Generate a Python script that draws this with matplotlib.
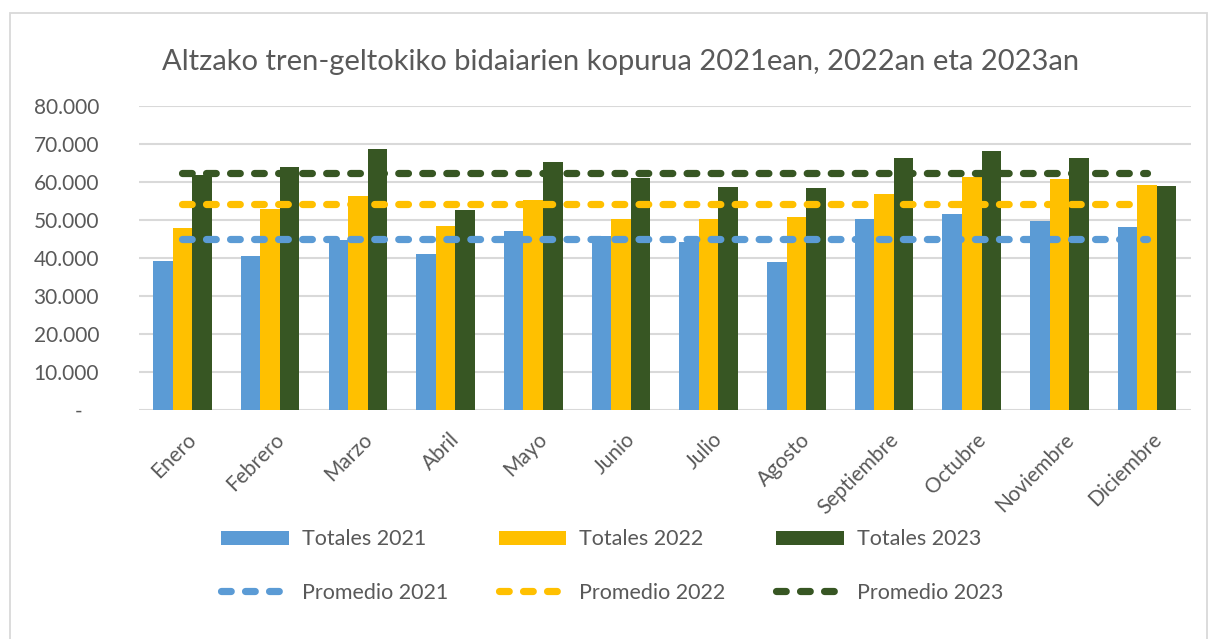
import matplotlib
matplotlib.use("Agg")
import matplotlib.pyplot as plt
from matplotlib.patches import Rectangle, Patch
from matplotlib.lines import Line2D
from matplotlib.transforms import ScaledTranslation
import numpy as np

plt.rcParams['font.family'] = ['Lato', 'DejaVu Sans']
plt.rcParams['lines.scale_dashes'] = False

months = ["Enero", "Febrero", "Marzo", "Abril", "Mayo", "Junio", "Julio",
          "Agosto", "Septiembre", "Octubre", "Noviembre", "Diciembre"]
totales_2021 = [39130, 40440, 44650, 41140, 47020, 45700, 44210, 38860, 50180, 51580, 49740, 48160]
totales_2022 = [47980, 52890, 56230, 48420, 55260, 50260, 50260, 50790, 56760, 61230, 60790, 59120]
totales_2023 = [61900, 63950, 68770, 52720, 65170, 60960, 58770, 58420, 66400, 68070, 66400, 58950]
promedio_2021 = 45070
promedio_2022 = 54170
promedio_2023 = 62400
ytick_values = [0, 10000, 20000, 30000, 40000, 50000, 60000, 70000, 80000]

title = "Altzako tren-geltokiko bidaiarien kopurua 2021ean, 2022an eta 2023an"
series_labels = ["Totales 2021", "Totales 2022", "Totales 2023"]
avg_labels = ["Promedio 2021", "Promedio 2022", "Promedio 2023"]
colors = ["#5B9BD5", "#FFC000", "#375623"]
text_color = "#595959"
grid_color = "#D9D9D9"

W, H = 1208, 639
fig = plt.figure(figsize=(W / 100, H / 100), dpi=100)
fig.patch.set_facecolor("white")

# chart frame
fig.patches.append(Rectangle((10 / W, -0.01), (W - 11) / W, (H - 13) / H + 0.01,
                             transform=fig.transFigure, fill=False,
                             edgecolor=grid_color, linewidth=1.3))

ax = fig.add_axes([138.6 / W, 1 - 410 / H, (1191 - 138.6) / W, (410 - 106) / H])
x = np.arange(len(months))
bw = 0.223
for i, (vals, c, lab) in enumerate(zip([totales_2021, totales_2022, totales_2023], colors, series_labels)):
    ax.bar(x + (i - 1) * bw, vals, width=bw, color=c, label=lab, zorder=2)

dash_pattern = (7.0, 10.3)
for val, c, lab in zip([promedio_2021, promedio_2022, promedio_2023], colors, avg_labels):
    ln, = ax.plot(x, [val] * len(x), color=c, linewidth=5.2, label=lab, zorder=3,
                  dashes=dash_pattern)
    ln.set_dash_capstyle("round")

ax.set_xlim(-0.5, len(months) - 0.5)
ax.set_ylim(0, 80000)
ax.set_yticks(ytick_values)
ax.set_yticklabels(["-   "] + [f"{v:,}".replace(",", ".") for v in ytick_values[1:]])
ax.grid(axis="y", color=grid_color, linewidth=1.5, zorder=0)
ax.set_axisbelow(True)
for s in ax.spines.values():
    s.set_visible(False)
ax.tick_params(axis="both", length=0, colors=text_color, labelsize=15)
ax.tick_params(axis="y", pad=28.5)
ax.set_xticks(x)
ax.set_xticklabels(months, rotation=45, ha="right", va="top", rotation_mode="anchor")
ax.tick_params(axis="x", pad=14)
shift = ScaledTranslation(4 / 100, 0, fig.dpi_scale_trans)
for lbl in ax.get_xticklabels():
    lbl.set_transform(lbl.get_transform() + shift)

fig.text(621 / W, 1 - 62 / H, title, ha="center", va="center",
         fontsize=21, color=text_color)

handles = []
for c, lab, alab in zip(colors, series_labels, avg_labels):
    handles.append(Patch(facecolor=c, label=lab))
    handles.append(Line2D([0], [0], color=c, linewidth=5.2, dashes=dash_pattern,
                          dash_capstyle="round", label=alab))
leg = fig.legend(handles=handles, ncol=3, loc="center left", frameon=False,
                 bbox_to_anchor=(221 / W, 1 - 566 / H), borderpad=0, borderaxespad=0,
                 fontsize=15.5, labelcolor=text_color, handlelength=3.15,
                 handleheight=0.65, handletextpad=0.6, columnspacing=2.35,
                 labelspacing=1.55)

fig.savefig("out.png", dpi=100, facecolor="white")
